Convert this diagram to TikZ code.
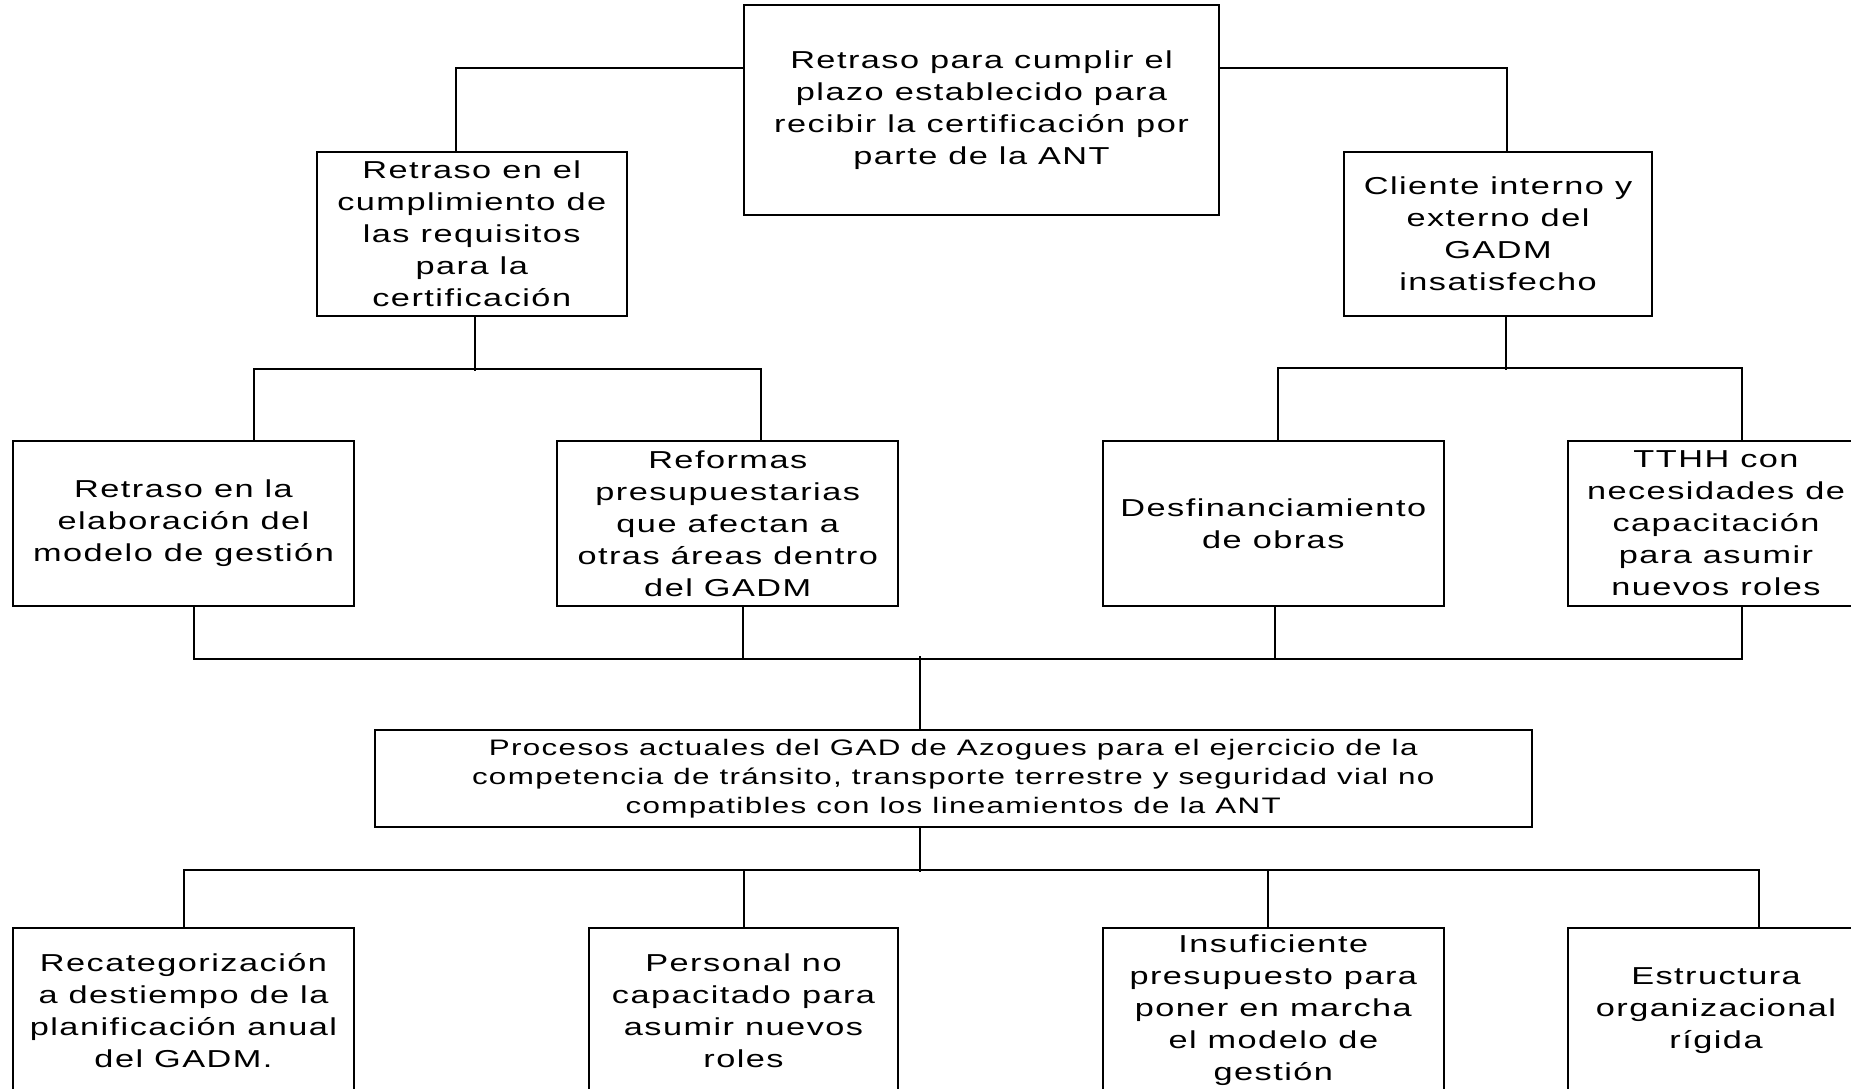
\documentclass[tikz,border=0pt]{standalone}
\usepackage{fontspec}
\newfontfamily\boxfont[FakeStretch=1.4,LetterSpace=6]{Liberation Sans}
\usetikzlibrary{calc}

\begin{document}
\begin{tikzpicture}[
        x=1pt, y=-1pt,
        line width=2pt
    ]
    \tikzset{
        causebox/.style = {rectangle, draw=black, align=center, inner sep=0pt, minimum width=341pt, minimum height=165pt, font=\boxfont\fontsize{24.5}{32}\selectfont},
    }
    \clip (0,0) rectangle (1851,1088);
    % effects
    \node[causebox, minimum width=475pt, minimum height=210pt] (root) at (981.5,110) {Retraso para cumplir el\\plazo establecido para\\recibir la certificación por\\parte de la ANT};
    \node[causebox, minimum width=309.5pt, minimum height=164pt] (req) at (471.75,234) {Retraso en el\\cumplimiento de\\las requisitos\\para la\\certificación};
    \node[causebox, minimum width=308pt, minimum height=164pt] (cli) at (1498,234) {Cliente interno y\\externo del\\GADM\\insatisfecho};
    \node[causebox] (elab) at (183.5,523.5) {Retraso en la\\elaboración del\\modelo de gestión};
    \node[causebox] (ref) at (727.75,523.5) {Reformas\\presupuestarias\\que afectan a\\otras áreas dentro\\del GADM};
    \node[causebox] (desf) at (1273.3,523.5) {Desfinanciamiento\\de obras};
    \node[causebox, minimum width=296pt] (tthh) at (1716,523.5) {TTHH con\\necesidades de\\capacitación\\para asumir\\nuevos roles};
    % problem
    \node[causebox, minimum width=1156.5pt, minimum height=96.7pt, font=\boxfont\fontsize{22.4}{29}\selectfont] (proc) at (953.25,778.3) {Procesos actuales del GAD de Azogues para el ejercicio de la\\competencia de tránsito, transporte terrestre y seguridad vial no\\compatibles con los lineamientos de la ANT};
    % causes
    \node[causebox] (rec) at (183.5,1010.5) {Recategorización\\a destiempo de la\\planificación anual\\del GADM.};
    \node[causebox, minimum width=309pt] (per) at (743.5,1010.5) {Personal no\\capacitado para\\asumir nuevos\\roles};
    \node[causebox] (ins) at (1273.3,1010.5) {Insuficiente\\presupuesto para\\poner en marcha\\el modelo de\\gestión};
    \node[causebox, minimum width=296pt] (est) at (1716,1010.5) {Estructura\\organizacional\\rígida};

    \draw ($(root.north west)!0.3!(root.south west)$) -| ([xshift=-16pt]req.north);
    \draw ($(root.north east)!0.3!(root.south east)$) -| ([xshift=9pt]cli.north);
    \draw ([xshift=3.25pt]req.south) -- ++(0,54);
    \draw ([xshift=70.5pt]elab.north) -- ++(0,-71) -| ([xshift=33.25pt]ref.north);
    \draw ([xshift=8pt]cli.south) -- ++(0,53);
    \draw ([xshift=4.7pt]desf.north) -- ++(0,-72) -| ([xshift=25.7pt]tthh.north);
    \draw ([xshift=10pt]elab.south) -- ++(0,51.5) -| ([xshift=25.7pt]tthh.south);
    \draw ([xshift=15.25pt]ref.south) -- ++(0,51.5);
    \draw ([xshift=1.7pt]desf.south) -- ++(0,51.5);
    \draw ([xshift=-33.25pt]proc.north) -- ++(0,-72.5);
    \draw ([xshift=-33.25pt]proc.south) -- ++(0,44);
    \draw (rec.north) -- ++(0,-57.3) -| ([xshift=42.6pt]est.north);
    \draw (per.north) -- ++(0,-57.3);
    \draw ([xshift=-5.3pt]ins.north) -- ++(0,-57.3);
\end{tikzpicture}
\end{document}
